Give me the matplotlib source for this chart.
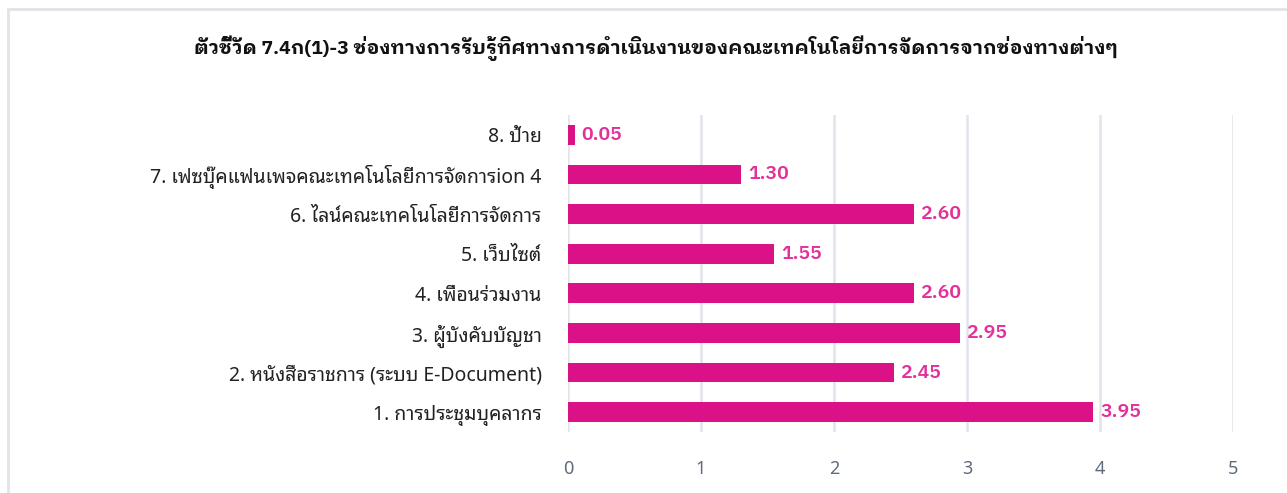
import matplotlib
matplotlib.use("Agg")
import matplotlib.pyplot as plt
from matplotlib.patches import Rectangle

# ช่องทางการรับรู้ (ล่างขึ้นบน) และคะแนนเฉลี่ย
channels = [
    "1. การประชุมบุคลากร",
    "2. หนังสือราชการ (ระบบ E-Document)",
    "3. ผู้บังคับบัญชา",
    "4. เพื่อนร่วมงาน",
    "5. เว็บไซต์",
    "6. ไลน์คณะเทคโนโลยีการจัดการ",
    "7. เฟซบุ๊คแฟนเพจคณะเทคโนโลยีการจัดการion 4",
    "8. ป้าย",
]
scores = [3.95, 2.45, 2.95, 2.60, 1.55, 2.60, 1.30, 0.05]
x_ticks = [0, 1, 2, 3, 4, 5]

title = "ตัวชี้วัด 7.4ก(1)-3 ช่องทางการรับรู้ทิศทางการดำเนินงานของคณะเทคโนโลยีการจัดการจากช่องทางต่างๆ"

plt.rcParams["font.family"] = ["Noto Sans Thai Looped", "Noto Sans", "DejaVu Sans"]

BAR = "#DB1287"
LABEL = "#E2319A"
GRID = "#E1E4EA"
TICK = "#5F6A7D"

fig = plt.figure(figsize=(12.87, 4.93), dpi=100)
ax = fig.add_axes([0.4413, 0.1237, 0.5167, 0.643])

ypos = range(len(channels))
ax.barh(ypos, scores, height=0.5, color=BAR, zorder=3)

for y, v in zip(ypos, scores):
    ax.annotate(f"{v:.2f}", (v, y), xytext=(5, 0), textcoords="offset points",
                va="center", ha="left", color=LABEL, fontsize=14,
                fontweight="semibold", family=["IBM Plex Sans Thai Looped", "Noto Sans"])

ax.set_xlim(0, 5)
ax.set_ylim(-0.5, len(channels) - 0.5)
ax.set_xticks(x_ticks)
ax.set_xticklabels([str(t) for t in x_ticks], color=TICK, fontsize=13)
ax.set_yticks(list(ypos))
ax.set_yticklabels(channels, fontsize=14, color="#222222")
ax.tick_params(axis="x", length=0, pad=20)
ax.tick_params(axis="y", length=0, pad=19)
ax.grid(axis="x", color=GRID, linewidth=1.8, zorder=0)
for s in ax.spines.values():
    s.set_visible(False)

fig.text(0.510, 0.902, title, ha="center", va="center", fontsize=14,
         fontweight="bold", color="#111111",
         family=["IBM Plex Sans Thai Looped", "Noto Sans"])

# กรอบรอบแผนภูมิ
fig.patches.append(Rectangle((8 / 1287, -0.1), 1.1, 1 - 9 / 493 + 0.1,
                             transform=fig.transFigure, fill=False,
                             edgecolor="#E0E3E9", linewidth=2))

fig.savefig("out.png", dpi=100)
